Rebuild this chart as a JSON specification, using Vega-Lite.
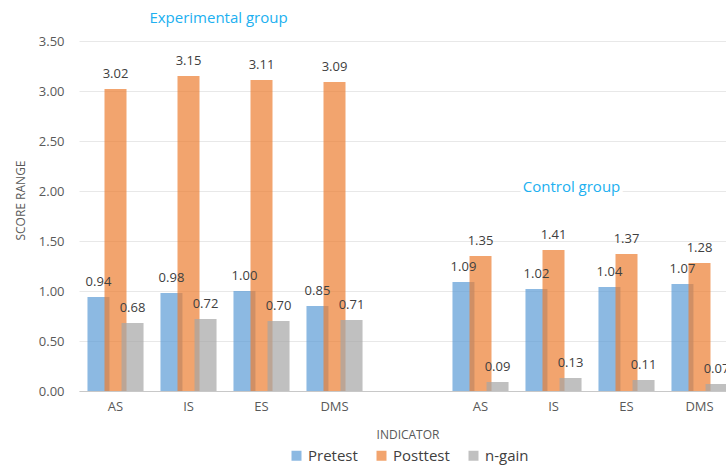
{
  "$schema": "https://vega.github.io/schema/vega-lite/v6.json",
  "width": 647,
  "height": 350,
  "autosize": "none",
  "padding": {"left": 79, "top": 41, "right": 0, "bottom": 77},
  "background": "white",
  "config": {"view": {"stroke": null}, "font": "Open Sans"},
  "data": {
    "values": [
      {"slot": "E|AS", "series": "Pretest", "value": 0.94},
      {"slot": "E|AS", "series": "Posttest", "value": 3.02},
      {"slot": "E|AS", "series": "n-gain", "value": 0.68},
      {"slot": "E|IS", "series": "Pretest", "value": 0.98},
      {"slot": "E|IS", "series": "Posttest", "value": 3.15},
      {"slot": "E|IS", "series": "n-gain", "value": 0.72},
      {"slot": "E|ES", "series": "Pretest", "value": 1.00},
      {"slot": "E|ES", "series": "Posttest", "value": 3.11},
      {"slot": "E|ES", "series": "n-gain", "value": 0.70},
      {"slot": "E|DMS", "series": "Pretest", "value": 0.85},
      {"slot": "E|DMS", "series": "Posttest", "value": 3.09},
      {"slot": "E|DMS", "series": "n-gain", "value": 0.71},
      {"slot": "C|AS", "series": "Pretest", "value": 1.09},
      {"slot": "C|AS", "series": "Posttest", "value": 1.35},
      {"slot": "C|AS", "series": "n-gain", "value": 0.09},
      {"slot": "C|IS", "series": "Pretest", "value": 1.02},
      {"slot": "C|IS", "series": "Posttest", "value": 1.41},
      {"slot": "C|IS", "series": "n-gain", "value": 0.13},
      {"slot": "C|ES", "series": "Pretest", "value": 1.04},
      {"slot": "C|ES", "series": "Posttest", "value": 1.37},
      {"slot": "C|ES", "series": "n-gain", "value": 0.11},
      {"slot": "C|DMS", "series": "Pretest", "value": 1.07},
      {"slot": "C|DMS", "series": "Posttest", "value": 1.28},
      {"slot": "C|DMS", "series": "n-gain", "value": 0.07}
    ]
  },
  "layer": [
    {
      "mark": {"type": "bar", "opacity": 0.7, "width": 22},
      "encoding": {
        "x": {
          "field": "slot",
          "type": "nominal",
          "sort": null,
          "scale": {
            "domain": ["E|AS", "E|IS", "E|ES", "E|DMS", "gap", "C|AS", "C|IS", "C|ES", "C|DMS"],
            "range": [0, 657],
            "paddingInner": 0.3,
            "paddingOuter": 0.15
          },
          "axis": {
            "title": "INDICATOR",
            "labelExpr": "datum.value == 'gap' ? '' : split(datum.value, '|')[1]",
            "labelAngle": 0,
            "ticks": false,
            "grid": false,
            "domainColor": "#C8C8C8",
            "labelFontSize": 13,
            "labelColor": "#595959",
            "labelPadding": 9,
            "titleFontSize": 12,
            "titleFontWeight": "normal",
            "titleColor": "#595959",
            "titleY": 43,
            "titleBaseline": "middle"
          }
        },
        "xOffset": {"field": "series", "type": "nominal", "scale": {"domain": ["Pretest", "Posttest", "n-gain"]}},
        "y": {
          "field": "value",
          "type": "quantitative",
          "scale": {"domain": [0, 3.5]},
          "axis": {
            "title": "SCORE RANGE",
            "values": [0, 0.5, 1, 1.5, 2, 2.5, 3, 3.5],
            "format": ".2f",
            "domain": false,
            "ticks": false,
            "gridColor": "#E8E8E8",
            "labelFontSize": 13,
            "labelColor": "#595959",
            "labelPadding": 15,
            "titleFontSize": 12,
            "titleFontWeight": "normal",
            "titleColor": "#595959",
            "titleX": -59,
            "titleY": 159,
            "titleAngle": 270,
            "titleAlign": "center",
            "titleBaseline": "middle"
          }
        },
        "color": {
          "field": "series",
          "type": "nominal",
          "scale": {"domain": ["Pretest", "Posttest", "n-gain"], "range": ["#5B9BD5", "#ED7D31", "#A5A5A5"]},
          "legend": {
            "title": null,
            "orient": "none",
            "legendX": 210,
            "legendY": 407,
            "direction": "horizontal",
            "symbolType": "square",
            "symbolSize": 100,
            "symbolOpacity": 0.7,
            "symbolStrokeWidth": 0,
            "labelFontSize": 15,
            "labelColor": "#404040",
            "columnPadding": 16,
            "labelOffset": 4
          }
        }
      }
    },
    {
      "mark": {"type": "text", "baseline": "alphabetic", "dy": -11, "fontSize": 13, "color": "#404040"},
      "encoding": {
        "x": {"field": "slot", "type": "nominal", "sort": null},
        "xOffset": {"field": "series", "type": "nominal"},
        "y": {"field": "value", "type": "quantitative"},
        "text": {"field": "value", "type": "quantitative", "format": ".2f"}
      }
    },
    {
      "data": {"values": [{"label": "Experimental group"}]},
      "mark": {"type": "text", "fontSize": 15, "color": "#20B0F0", "baseline": "middle", "dx": -43},
      "encoding": {
        "x": {"datum": "E|ES"},
        "y": {"datum": 3.73},
        "text": {"field": "label"}
      }
    },
    {
      "data": {"values": [{"label": "Control group"}]},
      "mark": {"type": "text", "fontSize": 15, "color": "white", "stroke": "white", "strokeWidth": 8, "baseline": "middle", "dx": 18},
      "encoding": {
        "x": {"datum": "C|IS"},
        "y": {"datum": 2.04},
        "text": {"field": "label"}
      }
    },
    {
      "data": {"values": [{"label": "Control group"}]},
      "mark": {"type": "text", "fontSize": 15, "color": "#20B0F0", "baseline": "middle", "dx": 18},
      "encoding": {
        "x": {"datum": "C|IS"},
        "y": {"datum": 2.04},
        "text": {"field": "label"}
      }
    }
  ]
}
